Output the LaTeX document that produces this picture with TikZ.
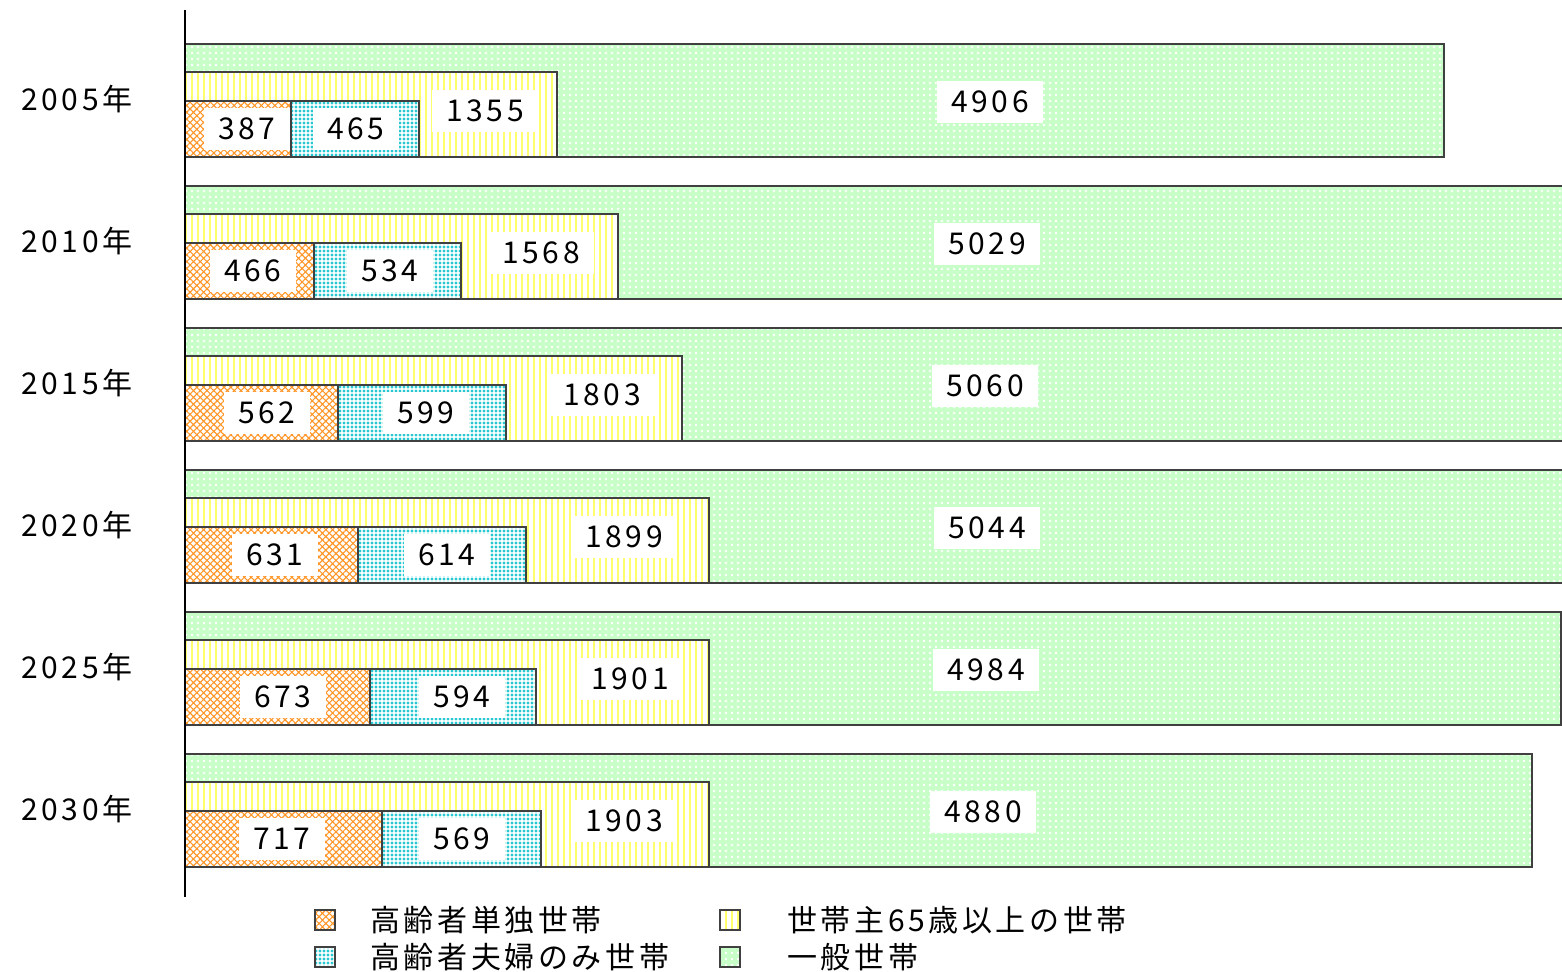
\documentclass[tikz,border=0pt]{standalone}
\usepackage{fontspec}
\setmainfont{Noto Sans CJK JP}[LetterSpace=12]
\usetikzlibrary{patterns.meta}

\definecolor{singlecol}{RGB}{255,150,40}
\definecolor{couplecol}{RGB}{40,200,210}
\definecolor{seniorcol}{RGB}{255,255,110}
\definecolor{generalcol}{RGB}{200,255,200}

\begin{document}
\begin{tikzpicture}[x=0.5pt,y=-0.5pt,
  barline/.style={draw=black!75,line width=0.8pt},
  single/.style={barline,preaction={fill=white},pattern={Hatch[angle=45,distance=2.4pt,line width=0.55pt]},pattern color=singlecol},
  couple/.style={barline,preaction={fill=white},pattern={Dots[distance=2pt,radius=0.8pt]},pattern color=couplecol},
  senior/.style={barline,preaction={fill=white},pattern={Lines[angle=90,distance=3pt,line width=1pt]},pattern color=seniorcol},
  general/.style={barline,preaction={fill=generalcol},pattern={Dots[distance=3pt,radius=0.65pt]},pattern color=white},
  txt/.style={font=\fontsize{15}{18}\selectfont,text=black},
  yr/.style={txt,inner sep=0pt},
  val/.style={txt,fill=white,inner xsep=7pt,minimum height=21pt},
  key/.style={draw=black!55,line width=0.6pt,minimum size=10pt,inner sep=0pt},
  keytext/.style={txt,anchor=west,inner sep=0pt}]
\useasboundingbox (0,0) rectangle (1562,971);
\clip (0,0) rectangle (1562,971);
\foreach \yr/\t/\xa/\xb/\xc/\xg in {2005/44/291/419/557/1444,2010/186/314/461/618/1600,2015/328/338/506/682/1600,2020/470/358/526/709/1600,2025/612/370/536/709/1561,2030/754/382/541/709/1532}{
  \draw[general] (185,\t) rectangle (\xg,\t+113);
  \draw[senior] (185,\t+28) rectangle (\xc,\t+113);
  \draw[single] (185,\t+57) rectangle (\xa,\t+113);
  \draw[couple] (\xa,\t+57) rectangle (\xb,\t+113);
  \node[yr] (y\yr) at (77,\t+55) {\yr 年};
}
\foreach \yr/\t/\pa/\va/\pb/\vb/\pc/\vc/\pg/\vg in {2005/44/247/387/356/465/485/1355/990/4906,2010/186/253/466/390/534/541/1568/987/5029,2015/328/267/562/426/599/602/1803/985/5060,2020/470/275/631/447/614/624/1899/987/5044,2025/612/283/673/462/594/630/1901/986/4984,2030/754/282/717/462/569/624/1903/983/4880}{
  \node[val] (a\yr) at (\pa,\t+85) {\va};
  \node[val] (b\yr) at (\pb,\t+85) {\vb};
  \node[val] (c\yr) at (\pc,\t+67) {\vc};
  \node[val] (g\yr) at (\pg,\t+58) {\vg};
}
\draw[line width=1.1pt] (185,10) -- (185,897);
\node[key,single] (ksingle) at (325,920) {};
\node[keytext] (tsingle) at (370,920) {高齢者単独世帯};
\node[key,couple] (kcouple) at (325,957) {};
\node[keytext] (tcouple) at (370,957) {高齢者夫婦のみ世帯};
\node[key,senior] (ksenior) at (730,920) {};
\node[keytext] (tsenior) at (787,920) {世帯主65歳以上の世帯};
\node[key,general] (kgeneral) at (730,957) {};
\node[keytext] (tgeneral) at (787,957) {一般世帯};
\end{tikzpicture}
\end{document}
